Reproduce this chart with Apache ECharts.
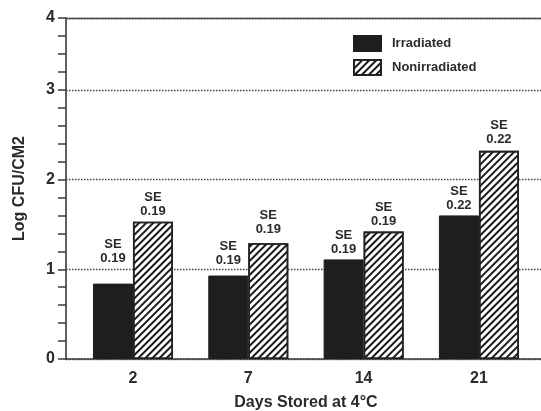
<!DOCTYPE html>
<html>
<head>
<meta charset="utf-8">
<script src="https://cdn.jsdelivr.net/npm/echarts@6/dist/echarts.min.js"></script>
<style>
html,body{margin:0;padding:0;background:#fff;}
#c{width:541px;height:411px;}
</style>
</head>
<body>
<div id="c"></div>
<script>
// ---- data ----
const categories = ['2', '7', '14', '21'];
const irradiated = [0.84, 0.93, 1.11, 1.60];
const nonirradiated = [1.53, 1.29, 1.42, 2.32];
const irradiatedSE = ['0.19', '0.19', '0.19', '0.22'];
const nonirradiatedSE = ['0.19', '0.19', '0.19', '0.22'];
const yTickValues = [0, 1, 2, 3, 3.8];
const yTickLabels = ['0', '1', '2', '3', '4'];
const seriesNames = ['Irradiated', 'Nonirradiated'];

// ---- styling ----
const FONT = '"Liberation Sans", Arial, sans-serif';
const TXT = '#2b2b2b';
const AX = '#3a3a3a';
const yMax = yTickValues[yTickValues.length - 1];
const irrLabelDist = [18, 8, 3, 3];
const nonLabelDist = [3, 7, 3, 4];

function withLabels(vals, se, dist) {
  return vals.map((v, i) => ({ value: v, se: se[i], label: { distance: dist[i] } }));
}

const hatch = { symbol: 'rect', symbolSize: 1, color: '#1a1a1a', dashArrayX: [1, 0], dashArrayY: [1.6, 2.3], rotation: -Math.PI / 4 };

const labelCfg = {
  show: true,
  position: 'top',
  formatter: p => 'SE\n' + p.data.se,
  fontFamily: FONT,
  fontWeight: 'bold',
  fontSize: 13,
  lineHeight: 14,
  color: TXT,
  align: 'center'
};

const chart = echarts.init(document.getElementById('c'), null, { renderer: 'canvas' });
chart.setOption({
  animation: false,
  backgroundColor: '#fff',
  grid: [
    { left: 66, right: 0, top: 18, bottom: 52, containLabel: false, outerBoundsMode: 'none' },
    { left: 75.3, width: 461.3, top: 18, bottom: 52, containLabel: false, outerBoundsMode: 'none' }
  ],
  legend: {
    orient: 'vertical',
    left: 348,
    top: 30,
    icon: 'rect',
    itemWidth: 27,
    itemHeight: 15,
    itemGap: 7,
    data: seriesNames,
    textStyle: { fontFamily: FONT, fontWeight: 'bold', fontSize: 13, color: TXT, padding: [0, 0, 0, 6] }
  },
  xAxis: [
    { gridIndex: 0, type: 'value', min: 0, max: 1, position: 'bottom',
      axisLine: { show: true, onZero: false, lineStyle: { color: AX, width: 1.6 } },
      axisTick: { show: false }, axisLabel: { show: false }, splitLine: { show: false } },
    { gridIndex: 0, type: 'value', min: 0, max: 1, position: 'top',
      axisLine: { show: true, onZero: false, lineStyle: { color: '#4a4a4a', width: 1.4 } },
      axisTick: { show: false }, axisLabel: { show: false }, splitLine: { show: false } },
    { gridIndex: 1, type: 'category', data: categories,
      axisLine: { show: false }, axisTick: { show: false },
      axisLabel: { fontFamily: FONT, fontWeight: 'bold', fontSize: 16, color: TXT, margin: 12 },
      name: 'Days Stored at 4°C', nameLocation: 'middle', nameGap: 36,
      nameTextStyle: { fontFamily: FONT, fontWeight: 'bold', fontSize: 16, color: TXT } }
  ],
  yAxis: [
    { gridIndex: 0, type: 'value', min: 0, max: yMax, interval: 1,
      axisLine: { show: true, lineStyle: { color: AX, width: 1.6 } },
      axisTick: { show: false },
      axisLabel: {
        fontFamily: FONT, fontWeight: 'bold', fontSize: 16, color: TXT, margin: 11,
        formatter: v => { const i = yTickValues.findIndex(t => Math.abs(t - v) < 1e-6); return i >= 0 ? yTickLabels[i] : ''; }
      },
      splitLine: { show: true, lineStyle: { color: '#444', width: 1.3, type: [1.5, 1.5] } },
      name: 'Log CFU/CM2', nameLocation: 'middle', nameGap: 38,
      nameTextStyle: { fontFamily: FONT, fontWeight: 'bold', fontSize: 16, color: TXT } },
    { gridIndex: 0, type: 'value', min: 0, max: yMax, interval: 0.2,
      axisLine: { show: false },
      axisTick: { show: true, inside: true, length: 8, lineStyle: { color: AX, width: 1.5 } },
      axisLabel: { show: false }, splitLine: { show: false } },
    { gridIndex: 1, type: 'value', min: 0, max: yMax, show: false, splitLine: { show: false } }
  ],
  series: [
    { name: seriesNames[0], type: 'bar', xAxisIndex: 2, yAxisIndex: 2,
      barWidth: 40, barGap: '0%',
      itemStyle: { color: '#1e1e1e', borderColor: '#1e1e1e', borderWidth: 1 },
      label: labelCfg,
      data: withLabels(irradiated, irradiatedSE, irrLabelDist) },
    { name: seriesNames[1], type: 'bar', xAxisIndex: 2, yAxisIndex: 2,
      barWidth: 40, barGap: '0%',
      itemStyle: { color: '#ffffff', borderColor: '#222', borderWidth: 1.6, decal: hatch },
      label: labelCfg,
      data: withLabels(nonirradiated, nonirradiatedSE, nonLabelDist) }
  ]
});
</script>
</body>
</html>
